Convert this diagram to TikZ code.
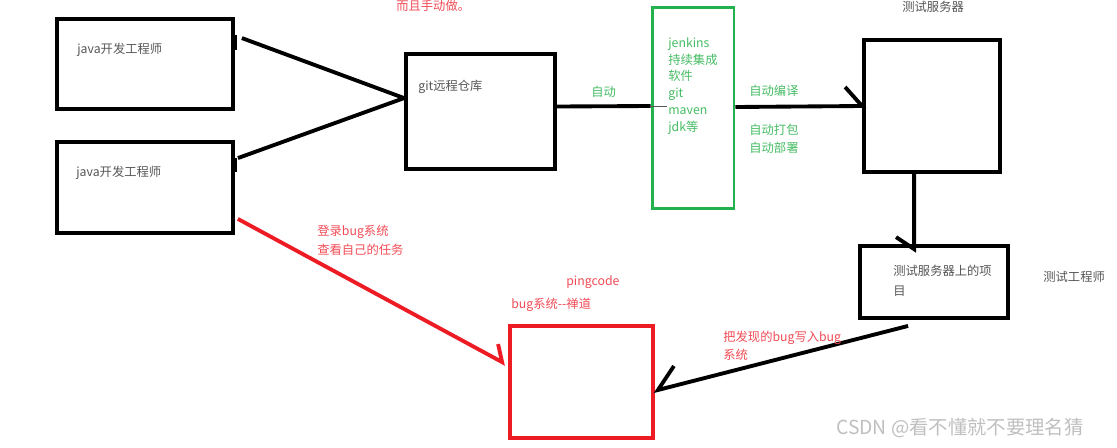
\documentclass[tikz,border=0pt]{standalone}
\usepackage{fontspec}
\setmainfont{Noto Sans CJK SC}
\usepackage{tikz}
\usetikzlibrary{calc}

\definecolor{paintred}{RGB}{237,28,36}
\definecolor{redtxt}{RGB}{240,75,85}
\definecolor{paintgreen}{RGB}{34,177,76}
\definecolor{greentxt}{RGB}{70,188,100}
\definecolor{graytxt}{RGB}{85,85,85}

\begin{document}
\begin{tikzpicture}[x=0.02cm, y=-0.02cm,
  box/.style={draw, line width=2.2pt, inner sep=0pt},
  link/.style={line width=2.2pt},
  txt/.style={anchor=west, inner sep=0pt, font=\fontsize{7}{9}\selectfont}]
  \useasboundingbox (0,0) rectangle (1117,447);
  \clip (0,0) rectangle (1117,447);
  % Developers
  \node[box, minimum width=3.52cm, minimum height=1.8cm] (dev1) at (145,64) {};
  \node[txt, graytxt] (dev1txt) at (77,50) {java开发工程师};
  \node[box, minimum width=3.52cm, minimum height=1.82cm] (dev2) at (145,187.5) {};
  \node[txt, graytxt] (dev2txt) at (76,173) {java开发工程师};
  % Remote repository
  \node[box, minimum width=2.98cm, minimum height=2.3cm] (git) at (480.5,111.5) {};
  \node[txt, graytxt] (gittxt) at (418,87) {git远程仓库};
  % Jenkins
  \node[draw=paintgreen, line width=1.7pt, inner sep=0pt,
    minimum width=1.64cm, minimum height=4.04cm] (jenkins) at (693,108) {};
  \node[txt, greentxt, align=left, font=\fontsize{7}{9.6}\selectfont, anchor=north west]
    (jenkinstxt) at (668,37) {jenkins\\持续集成\\软件\\git\\maven\\jdk等};
  % Test server
  \node[box, minimum width=2.72cm, minimum height=2.64cm] (server) at (932,106) {};
  \node[txt, graytxt] (servertxt) at (902,7) {测试服务器};
  \node[box, minimum width=2.96cm, minimum height=1.44cm] (proj) at (934,282) {};
  \node[txt, graytxt, align=left, anchor=north west, font=\fontsize{7}{11.5}\selectfont]
    (projtxt) at (893,265) {测试服务器上的项\\目};
  \node[txt, graytxt] (tester) at (1043,277) {测试工程师};
  % Bug system
  \node[draw=paintred, line width=2.2pt, inner sep=0pt,
    minimum width=2.86cm, minimum height=2.24cm] (bug) at (581.5,382) {};
  \node[txt, redtxt] (pingcode) at (566,282) {pingcode};
  \node[txt, redtxt] (bugtxt) at (511,305) {bug系统-{}-禅道};
  % Top note
  \node[txt, redtxt] (note) at (396,6) {而且手动做。};
  % Connectors
  \draw[link] ($(dev1.north east)+(0,18)$) -- ++(0,15);
  \draw[link] ($(dev1.north east)+(7,21)$) -- ($(git.north west)+(0,46)$);
  \draw[link] ($(dev2.north east)+(0,18)$) -- ++(0,14);
  \draw[link] ($(dev2.north east)+(3,18)$) -- ($(git.north west)+(0,46)$);
  \draw[link] ($(git.east)+(0,-5)$) -- ($(jenkins.west)+(0,-2)$)
    node[midway, above=8pt, txt, anchor=center, greentxt] (auto) {自动};
  \draw[thin, graytxt] ($(jenkins.west)+(0,-2)$) -- ++(16,0);
  \draw[link] ($(jenkins.east)+(0,-1)$) -- (server.west) -- ++(-17,-19);
  \node[txt, greentxt] (compile) at (749,91) {自动编译};
  \node[txt, greentxt, align=left, anchor=north west, font=\fontsize{7}{10.3}\selectfont]
    (deploy) at (749,124) {自动打包\\自动部署};
  \draw[link] ($(server.south west)+(52,0)$) -- ($(proj.north west)+(56,5)$) -- ++(-18,-12);
  \draw[link] ($(proj.south west)+(50,6)$) -- ($(bug.east)+(3,8)$) -- ++(16,-24);
  \node[txt, redtxt, align=left, anchor=north west, font=\fontsize{7}{10.3}\selectfont]
    (writebug) at (723,331) {把发现的bug写入bug\\系统};
  \draw[link, paintred] ($(dev2.south east)+(3,-16)$) -- ($(bug.north west)+(-6,38)$) -- ++(-4,-18);
  \node[txt, redtxt, align=left, anchor=north west, font=\fontsize{7}{10.8}\selectfont]
    (login) at (317,225) {登录bug系统\\查看自己的任务};
  % Watermark
  \node[txt, gray!50, font=\fontsize{11}{13}\selectfont] (mark) at (836,428) {CSDN @看不懂就不要理名猜};
\end{tikzpicture}
\end{document}
